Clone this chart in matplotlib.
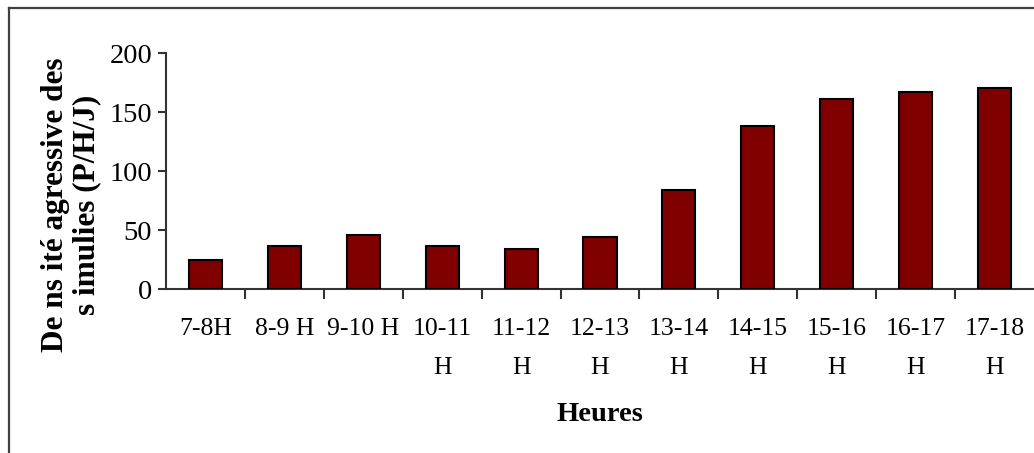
import matplotlib.pyplot as plt
from matplotlib.lines import Line2D

heures = ['7-8H', '8-9 H', '9-10 H', '10-11\nH', '11-12\nH', '12-13\nH',
          '13-14\nH', '14-15\nH', '15-16\nH', '16-17\nH', '17-18\nH']
densite = [25, 37, 46, 37, 34, 44, 84, 138, 161, 167, 171]
yticks = [0, 50, 100, 150, 200]

plt.rcParams['font.family'] = 'Liberation Serif'

W, H = 1034, 453
fig = plt.figure(figsize=(W / 100, H / 100), dpi=100)
ax = fig.add_axes([166 / W, 1 - 289.3 / H, 868 / W, (289.3 - 53.3) / H])

x = range(len(heures))
ax.bar(x, densite, width=0.42, color='#800000', edgecolor='black', linewidth=1.5, zorder=3)

ax.set_xlim(-0.5, len(heures) - 0.5)
ax.set_ylim(0, 200)
ax.set_yticks(yticks)
ax.set_yticklabels([str(v) for v in yticks], fontsize=20.5)
ax.set_xticks(list(x))
ax.set_xticklabels(heures, fontsize=18.5, linespacing=2.0)
ax.set_xticks([i + 0.5 for i in range(len(heures) - 1)], minor=True)
ax.tick_params(axis='x', which='major', length=0, pad=21)
ax.tick_params(axis='x', which='minor', length=7, width=1.5, color='#333333')
ax.tick_params(axis='y', length=6, width=1.5, color='#333333', pad=4)

for s in ['top', 'right']:
    ax.spines[s].set_visible(False)
for s in ['left', 'bottom']:
    ax.spines[s].set_linewidth(1.5)
    ax.spines[s].set_color('#333333')
ax.spines['left'].set_bounds(0, 200)

ax.set_xlabel('Heures', fontsize=20.5, fontweight='bold', labelpad=16)
fig.text(71 / W, 1 - 205 / H, 'De ns ité agressive des\ns imulies (P/H/J)',
         rotation=90, ha='center', va='center', multialignment='center',
         fontsize=22.5, fontweight='bold', linespacing=1.1)

# cadre autour du graphique
fig.add_artist(Line2D([9 / W, 9 / W], [0, 1 - 8 / H], transform=fig.transFigure,
                      color='#404040', linewidth=1.6))
fig.add_artist(Line2D([9 / W, 1], [1 - 8 / H, 1 - 8 / H], transform=fig.transFigure,
                      color='#404040', linewidth=1.6))

fig.savefig('out.png', dpi=100)
